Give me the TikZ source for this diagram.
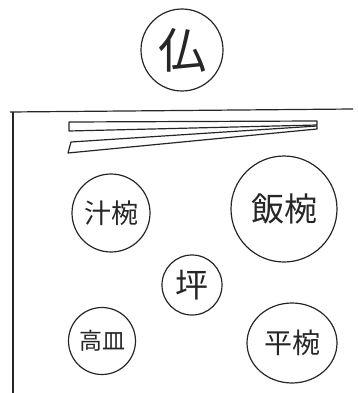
\documentclass[tikz,border=0pt]{standalone}
\usepackage{fontspec}
\usetikzlibrary{shapes.geometric}
\newfontfamily\cjk{Noto Sans CJK JP}
\begin{document}
\begin{tikzpicture}[x=1pt,y=-1pt,
  ln/.style={line width=1.2pt,black!85},
  dish/.style={ln,draw,circle,inner sep=0pt,font=\cjk}]
\useasboundingbox (0,0) rectangle (358,393);
% Buddha offering
\node[dish,minimum size=82pt,font=\cjk\fontsize{48}{48}\selectfont] (butsu) at (182,50) {仏};
% tray border
\coordinate (tl) at (10,112);
\coordinate (tr) at (353,109);
\coordinate (bl) at (13,393);
\draw[ln] (tl) -- (tr);
\draw[ln] (13,112) -- (bl);
% chopsticks
\draw[ln,line join=round] (69,122) -- (317,121) -- (317,125) -- (69,131) -- cycle;
\draw[ln,line join=round] (71,142) -- (317,126) -- (317,129) -- (68,153) -- cycle;
% dishes
\node[dish,minimum size=78pt,font=\cjk\fontsize{27}{27}\selectfont] (shiru) at (111,213) {汁椀};
\node[dish,minimum size=106pt,font=\cjk\fontsize{33}{33}\selectfont] (meshi) at (284,209) {飯椀};
\node[dish,minimum size=60pt,font=\cjk\fontsize{33}{33}\selectfont] (tsubo) at (192,285) {坪};
\node[dish,minimum size=67pt,font=\cjk\fontsize{23}{23}\selectfont] (takazara) at (102,341) {高皿};
\node[ln,draw,ellipse,minimum width=90pt,minimum height=80pt,inner sep=0pt,font=\cjk\fontsize{28}{28}\selectfont] (hira) at (292,343) {平椀};
\end{tikzpicture}
\end{document}
